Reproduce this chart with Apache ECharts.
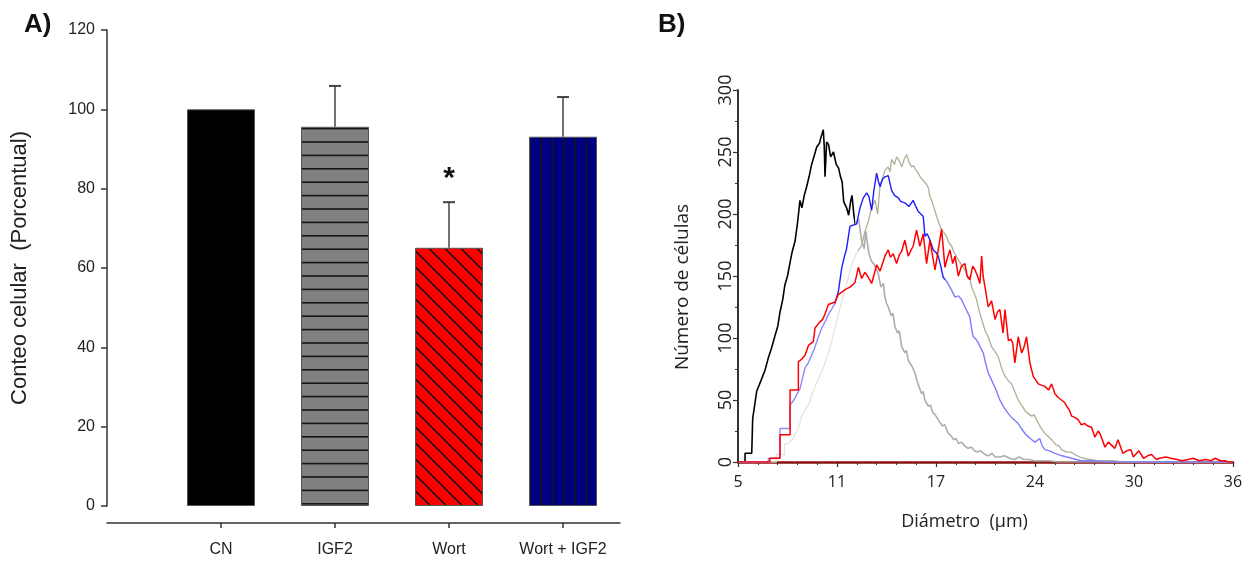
<!DOCTYPE html>
<html>
<head>
<meta charset="utf-8">
<title>Conteo celular y distribución de diámetros</title>
<script src="https://cdn.jsdelivr.net/npm/echarts@6/dist/echarts.min.js"></script>
<style>
  html, body { margin: 0; padding: 0; background: #fff; }
  #chart { width: 1252px; height: 565px; }
</style>
</head>
<body>
<div id="chart"></div>
<script>
// ---- Panel A: cell count per treatment (percent of control) ----
const categories = ['CN', 'IGF2', 'Wort', 'Wort + IGF2'];
const meanValues = [100, 95.6, 65.1, 93.1];
const sdValues = [0, 10.3, 11.5, 10.0];
const significance = ['', '', '*', ''];
const yTicksA = { min: 0, max: 120, step: 20 };

// ---- Panel B: cell diameter histograms, [diameter (µm), number of cells] ----
const cnCurve = [
  [5.0,0],[5.44,0],[5.44,7],[5.86,7],[5.92,35],[6.17,57],[6.45,66],[6.69,74],[6.9,84],[7.1,92],[7.32,102],
  [7.5,110],[7.63,121],[7.8,131],[7.94,143],[8.1,150],[8.26,161],[8.4,170],[8.57,178],[8.7,190],[8.78,199],
  [8.88,211],[9.0,205],[9.15,215],[9.3,222],[9.45,230],[9.61,240],[9.75,246],[9.93,254],[10.1,257],[10.2,262],
  [10.34,268],[10.4,255],[10.45,230],[10.55,258],[10.67,256],[10.8,246],[10.98,250],[11.15,240],[11.3,237],
  [11.42,230],[11.52,226],[11.62,210],[11.8,205],[11.93,199],[12.05,210],[12.14,215],[12.25,200],[12.35,191],
  [12.55,196],[12.75,178],[12.9,172],[13.0,186],[13.2,168],[13.35,162],[13.5,160],[13.65,156],[13.78,152],
  [13.95,141],[14.1,144],[14.2,133],[14.3,128],[14.41,125],[14.6,118],[14.7,120],[14.83,109],[15.0,104],
  [15.1,106],[15.25,93],[15.45,88],[15.55,90],[15.66,82],[15.9,77],[16.08,72],[16.2,66],[16.3,62],[16.5,55],
  [16.6,57],[16.7,50],[16.92,45],[17.05,46],[17.2,40],[17.35,38],[17.54,34],[17.8,29],[17.95,30],[18.17,23],
  [18.35,21],[18.5,18],[18.65,19],[18.8,15],[19.0,16],[19.2,13],[19.4,11],[19.63,12],[19.8,9],[20.0,8],
  [20.2,9],[20.47,6],[20.7,5],[20.9,7],[21.1,4],[21.4,4],[21.7,5],[22.0,3],[22.3,2],[22.6,4],[22.9,2],
  [23.2,2],[23.6,1],[24.0,1],[24.5,1],[25.0,0],[36.0,0]
];
const igf2Curve = [
  [5.0,0],[7.4,0],[7.4,6],[7.9,6],[7.9,14],[8.15,15],[8.4,18],[8.7,25],[8.85,30],[9.0,38],[9.3,44],[9.45,47],
  [9.6,53],[9.8,60],[10.03,67],[10.15,70],[10.3,75],[10.45,80],[10.6,86],[10.75,92],[10.87,97],[11.1,110],
  [11.3,120],[11.49,129],[11.65,136],[11.8,143],[11.95,151],[12.12,159],[12.25,163],[12.4,168],[12.55,171],
  [12.75,175],[12.95,186],[13.16,194],[13.37,205],[13.58,211],[13.75,200],[13.9,224],[14.05,229],[14.2,235],
  [14.4,238],[14.52,234],[14.62,244],[14.8,240],[14.93,246],[15.1,243],[15.25,238],[15.4,244],[15.56,248],
  [15.7,242],[15.87,238],[16.0,239],[16.1,236],[16.29,233],[16.45,229],[16.6,227],[16.8,224],[16.92,221],
  [17.0,215],[17.13,211],[17.3,204],[17.44,198],[17.6,192],[17.75,187],[17.9,185],[18.06,182],[18.2,177],
  [18.38,174],[18.5,170],[18.6,169],[18.8,163],[19.0,159],[19.21,155],[19.4,148],[19.5,150],[19.63,141],
  [19.8,136],[19.94,131],[20.1,122],[20.26,115],[20.47,106],[20.67,101],[20.88,93],[21.1,89],[21.3,85],
  [21.5,76],[21.72,69],[21.9,66],[22.14,63],[22.35,56],[22.55,50],[22.8,45],[23.0,41],[23.18,39],[23.4,37],
  [23.55,38],[23.7,34],[23.95,28],[24.22,23],[24.4,21],[24.64,18],[24.9,14],[25.1,13],[25.26,10],[25.6,8],
  [25.85,8],[26.1,6],[26.4,4],[26.7,3],[27.1,2],[27.5,1],[28.5,1],[29.0,0],[36.0,0]
];
const wortCurve = [
  [5.0,0],[7.0,0],[7.0,3],[7.63,3],[7.63,22],[8.26,22],[8.26,58],[8.78,58],[8.78,81],[9.0,83],[9.2,86],
  [9.41,94],[9.72,97],[9.82,108],[10.13,113],[10.3,115],[10.44,119],[10.66,127],[11.07,129],[11.28,135],
  [11.5,137],[11.7,139],[12.01,141],[12.2,143],[12.33,145],[12.45,146],[12.54,157],[12.65,152],[12.75,148],
  [12.95,153],[13.16,149],[13.37,144],[13.5,150],[13.68,159],[13.9,154],[14.05,160],[14.2,166],[14.41,171],
  [14.55,165],[14.72,168],[14.93,160],[15.1,167],[15.25,170],[15.45,179],[15.66,166],[15.8,170],[15.97,174],
  [16.18,187],[16.39,174],[16.6,184],[16.81,160],[17.02,179],[17.2,165],[17.34,155],[17.54,171],[17.75,188],
  [17.96,157],[18.1,164],[18.27,171],[18.45,160],[18.59,166],[18.8,150],[19.0,158],[19.21,160],[19.35,150],
  [19.52,147],[19.7,158],[19.84,155],[20.0,150],[20.15,144],[20.26,166],[20.35,150],[20.47,141],[20.67,125],
  [20.88,130],[21.1,115],[21.25,121],[21.4,123],[21.6,104],[21.72,123],[21.93,98],[22.1,99],[22.2,96],
  [22.34,80],[22.55,101],[22.76,88],[22.9,92],[23.07,101],[23.28,80],[23.49,69],[23.65,66],[23.8,63],
  [24.0,62],[24.22,61],[24.45,58],[24.64,63],[24.85,55],[25.05,52],[25.26,50],[25.45,48],[25.58,45],
  [25.75,42],[25.89,37],[26.1,36],[26.31,34],[26.5,30],[26.72,31],[26.9,29],[27.14,28],[27.35,20],
  [27.55,25],[27.67,23],[27.98,12],[28.19,16],[28.3,15],[28.6,11],[28.8,18],[29.1,7],[29.35,9],[29.6,10],
  [29.76,4],[30.1,9],[30.4,3],[30.65,5],[30.9,6],[31.2,2],[31.4,3],[31.8,4],[32.1,3],[32.5,2],[32.8,1],
  [33.2,2],[33.5,3],[33.9,1],[34.3,2],[34.6,1],[34.9,3],[35.2,1],[35.5,1],[35.7,0],[36.0,0]
];
const wortIgf2Curve = [
  [5.0,0],[6.9,0],[6.9,3],[7.63,3],[7.63,27],[8.26,27],[8.26,46],[8.5,50],[8.7,55],[8.88,59],[9.05,68],
  [9.2,76],[9.4,80],[9.61,86],[9.8,92],[9.93,97],[10.1,103],[10.24,108],[10.45,113],[10.66,119],[10.85,123],
  [11.07,128],[11.28,137],[11.49,156],[11.65,165],[11.8,172],[12.01,190],[12.2,191],[12.43,192],[12.64,205],
  [12.85,213],[13.06,217],[13.2,214],[13.37,203],[13.5,218],[13.68,233],[13.8,226],[13.9,222],[14.05,228],
  [14.2,230],[14.41,231],[14.62,219],[14.8,215],[15.04,213],[15.2,210],[15.45,209],[15.7,206],[15.97,211],
  [16.1,207],[16.29,202],[16.45,200],[16.6,198],[16.71,182],[16.85,184],[17.02,179],[17.23,171],[17.4,169],
  [17.54,166],[17.7,158],[17.85,149],[18.05,146],[18.27,141],[18.4,138],[18.59,133],[18.8,134],[19.0,131],
  [19.25,124],[19.52,117],[19.62,108],[19.73,101],[19.9,99],[20.05,96],[20.2,92],[20.36,88],[20.5,80],
  [20.67,72],[20.88,66],[21.1,60],[21.4,50],[21.65,44],[21.93,39],[22.2,35],[22.55,31],[22.75,27],[22.97,23],
  [23.3,19],[23.6,16],[23.9,19],[24.05,13],[24.22,10],[24.5,9],[24.85,7],[25.3,5],[25.89,3],[26.5,1],
  [27.3,1],[28.0,0],[36.0,0]
];
const xTicksB = { min: 5, max: 36, step: 6.2 };
const yTicksB = { min: 0, max: 300, step: 50 };

// ---- hatch fills for the bars ----
function hatch(w, h, bg, draw) {
  const c = document.createElement('canvas');
  c.width = w; c.height = h;
  const g = c.getContext('2d');
  g.fillStyle = bg;
  g.fillRect(0, 0, w, h);
  g.strokeStyle = '#151515';
  g.lineWidth = 1.6;
  draw(g, w, h);
  return { image: c, repeat: 'repeat' };
}
const horizontalLines = hatch(8, 67, '#808080', (g, w) => {
  for (let k = 0; k < 5; k++) {
    const y = 8 + 13.4 * k;
    g.beginPath(); g.moveTo(0, y); g.lineTo(w, y); g.stroke();
  }
});
const diagonalLines = hatch(16, 16, '#ff0000', (g) => {
  for (const c of [-16 + 4.6, 4.6, 4.6 + 16]) {
    g.beginPath(); g.moveTo(c - 4, -4); g.lineTo(c + 20, 20); g.stroke();
  }
});
const verticalLines = hatch(34, 8, '#000080', (g, w, h) => {
  for (const x of [8.6, 20, 31.3]) {
    g.beginPath(); g.moveTo(x, 0); g.lineTo(x, h); g.stroke();
  }
});
const barFills = ['#000000', horizontalLines, diagonalLines, verticalLines];

// Colour of a histogram trace that changes at given diameters (hard stops along x).
function bandedColor(curve, bands) {
  const x0 = curve[0][0], x1 = curve[curve.length - 1][0];
  const stops = [];
  bands.forEach((b, i) => {
    const from = i === 0 ? 0 : (b.from - x0) / (x1 - x0);
    const to = i === bands.length - 1 ? 1 : (bands[i + 1].from - x0) / (x1 - x0);
    stops.push({ offset: from, color: b.color }, { offset: to, color: b.color });
  });
  return { type: 'linear', x: 0, y: 0, x2: 1, y2: 0, colorStops: stops };
}

const fontA = "'Liberation Sans', Arial, sans-serif";
const fontB = "'Open Sans', 'Noto Sans', sans-serif";
const textColor = '#222';

const barData = categories.map((c, i) => ({
  value: [i + 1, meanValues[i]],
  itemStyle: { color: barFills[i] }
}));
const errData = categories.map((c, i) => [i + 1, meanValues[i], meanValues[i] + sdValues[i]]);
const catPositions = categories.map((c, i) => i + 1);

const chart = echarts.init(document.getElementById('chart'), null, { renderer: 'canvas' });

const option = {
  animation: false,
  backgroundColor: '#ffffff',
  title: [
    { text: 'A)', left: 19, top: 7, textStyle: { fontFamily: fontA, fontSize: 26, fontWeight: 'bold', color: '#111' } },
    { text: 'B)', left: 653, top: 7, textStyle: { fontFamily: fontA, fontSize: 26, fontWeight: 'bold', color: '#111' } }
  ],
  grid: [
    { left: 107, top: 30, width: 513, height: 476, containLabel: false, outerBoundsMode: 'none' },
    { left: 738, top: 90, width: 495, height: 372, containLabel: false, outerBoundsMode: 'none' }
  ],
  xAxis: [
    {
      gridIndex: 0, type: 'value', min: 0, max: 4.5, interval: 1, offset: 17,
      axisLine: { show: true, onZero: false, lineStyle: { color: '#333', width: 1.5 } },
      axisTick: { show: true, customValues: catPositions, length: 5, lineStyle: { color: '#333', width: 1.5 } },
      axisLabel: {
        customValues: catPositions, margin: 19, fontFamily: fontA, fontSize: 16, color: textColor,
        formatter: (v) => categories[Math.round(v) - 1] || ''
      },
      splitLine: { show: false }
    },
    {
      gridIndex: 1, type: 'value', min: xTicksB.min, max: xTicksB.max, interval: xTicksB.step,
      name: 'Diámetro  (µm)', nameLocation: 'middle', nameGap: 51,
      nameTextStyle: { fontFamily: fontB, fontSize: 18, color: textColor, padding: [0, 42, 0, 0] },
      axisLine: { show: true, onZero: false, lineStyle: { color: '#8a1010', width: 2.5 } },
      axisTick: { show: true, length: 5, lineStyle: { color: '#333', width: 1.2 } },
      minorTick: { show: true, splitNumber: 5, length: 3, lineStyle: { color: '#333', width: 1 } },
      axisLabel: { margin: 12, fontFamily: fontB, fontSize: 16, color: textColor, formatter: (v) => String(Math.round(v)) },
      splitLine: { show: false }, minorSplitLine: { show: false }
    }
  ],
  yAxis: [
    {
      gridIndex: 0, type: 'value', min: yTicksA.min, max: yTicksA.max, interval: yTicksA.step,
      name: 'Conteo celular  (Porcentual)', nameLocation: 'middle', nameGap: 76,
      nameTextStyle: { fontFamily: fontA, fontSize: 22, color: textColor },
      axisLine: { show: true, lineStyle: { color: '#333', width: 1.5 } },
      axisTick: { show: true, length: 6, lineStyle: { color: '#333', width: 1.5 } },
      axisLabel: { margin: 12, fontFamily: fontA, fontSize: 16, color: textColor },
      splitLine: { show: false }
    },
    {
      gridIndex: 1, type: 'value', min: yTicksB.min, max: yTicksB.max, interval: yTicksB.step,
      name: 'Número de células', nameLocation: 'middle', nameGap: 46,
      nameTextStyle: { fontFamily: fontB, fontSize: 19, color: textColor, padding: [0, 22, 0, 0] },
      axisLine: { show: true, lineStyle: { color: '#333', width: 2 } },
      axisTick: { show: true, length: 5, lineStyle: { color: '#333', width: 1.2 } },
      minorTick: { show: true, splitNumber: 2, length: 3, lineStyle: { color: '#333', width: 1 } },
      axisLabel: { rotate: 90, margin: 3, fontFamily: fontB, fontSize: 18, color: textColor },
      splitLine: { show: false }, minorSplitLine: { show: false }
    }
  ],
  series: [
    {
      type: 'bar', xAxisIndex: 0, yAxisIndex: 0, barWidth: 68, data: barData,
      itemStyle: { borderColor: '#555', borderWidth: 1 }
    },
    {
      type: 'custom', xAxisIndex: 0, yAxisIndex: 0, data: errData,
      renderItem: (params, api) => {
        const x = api.value(0), lo = api.value(1), hi = api.value(2);
        const p0 = api.coord([x, lo]);
        const p1 = api.coord([x, hi]);
        const children = [];
        if (hi > lo) {
          children.push({ type: 'line', shape: { x1: p0[0], y1: p0[1], x2: p1[0], y2: p1[1] },
            style: { stroke: '#444', lineWidth: 1.5 } });
          children.push({ type: 'line', shape: { x1: p1[0] - 6, y1: p1[1], x2: p1[0] + 6, y2: p1[1] },
            style: { stroke: '#444', lineWidth: 2 } });
        }
        const mark = significance[params.dataIndex];
        if (mark) {
          children.push({ type: 'text', x: p1[0], y: p1[1] - 23,
            style: { text: mark, fontFamily: fontA, fontSize: 30, fontWeight: 'bold', fill: '#111',
              align: 'center', verticalAlign: 'middle' } });
        }
        return { type: 'group', children };
      }
    },
    { name: 'CN', type: 'line', xAxisIndex: 1, yAxisIndex: 1, data: cnCurve, symbol: 'none',
      lineStyle: { width: 1.6, color: bandedColor(cnCurve, [{ from: 5, color: '#000000' }, { from: 12.4, color: '#adadad' }]) } },
    { name: 'IGF2', type: 'line', xAxisIndex: 1, yAxisIndex: 1, data: igf2Curve, symbol: 'none',
      lineStyle: { width: 1.3, color: bandedColor(igf2Curve, [{ from: 5, color: '#e4e4da' }, { from: 12.6, color: '#b0b096' }]) } },
    { name: 'Wort + IGF2', type: 'line', xAxisIndex: 1, yAxisIndex: 1, data: wortIgf2Curve, symbol: 'none',
      lineStyle: { width: 1.4, color: bandedColor(wortIgf2Curve, [{ from: 5, color: '#8a8aff' }, { from: 11.2, color: '#1c1cff' }, { from: 18.0, color: '#7c7cff' }]) } },
    { name: 'Wort', type: 'line', xAxisIndex: 1, yAxisIndex: 1, data: wortCurve, symbol: 'none',
      lineStyle: { width: 1.5, color: '#ff0000' } }
  ]
};
chart.setOption(option);
</script>
</body>
</html>
